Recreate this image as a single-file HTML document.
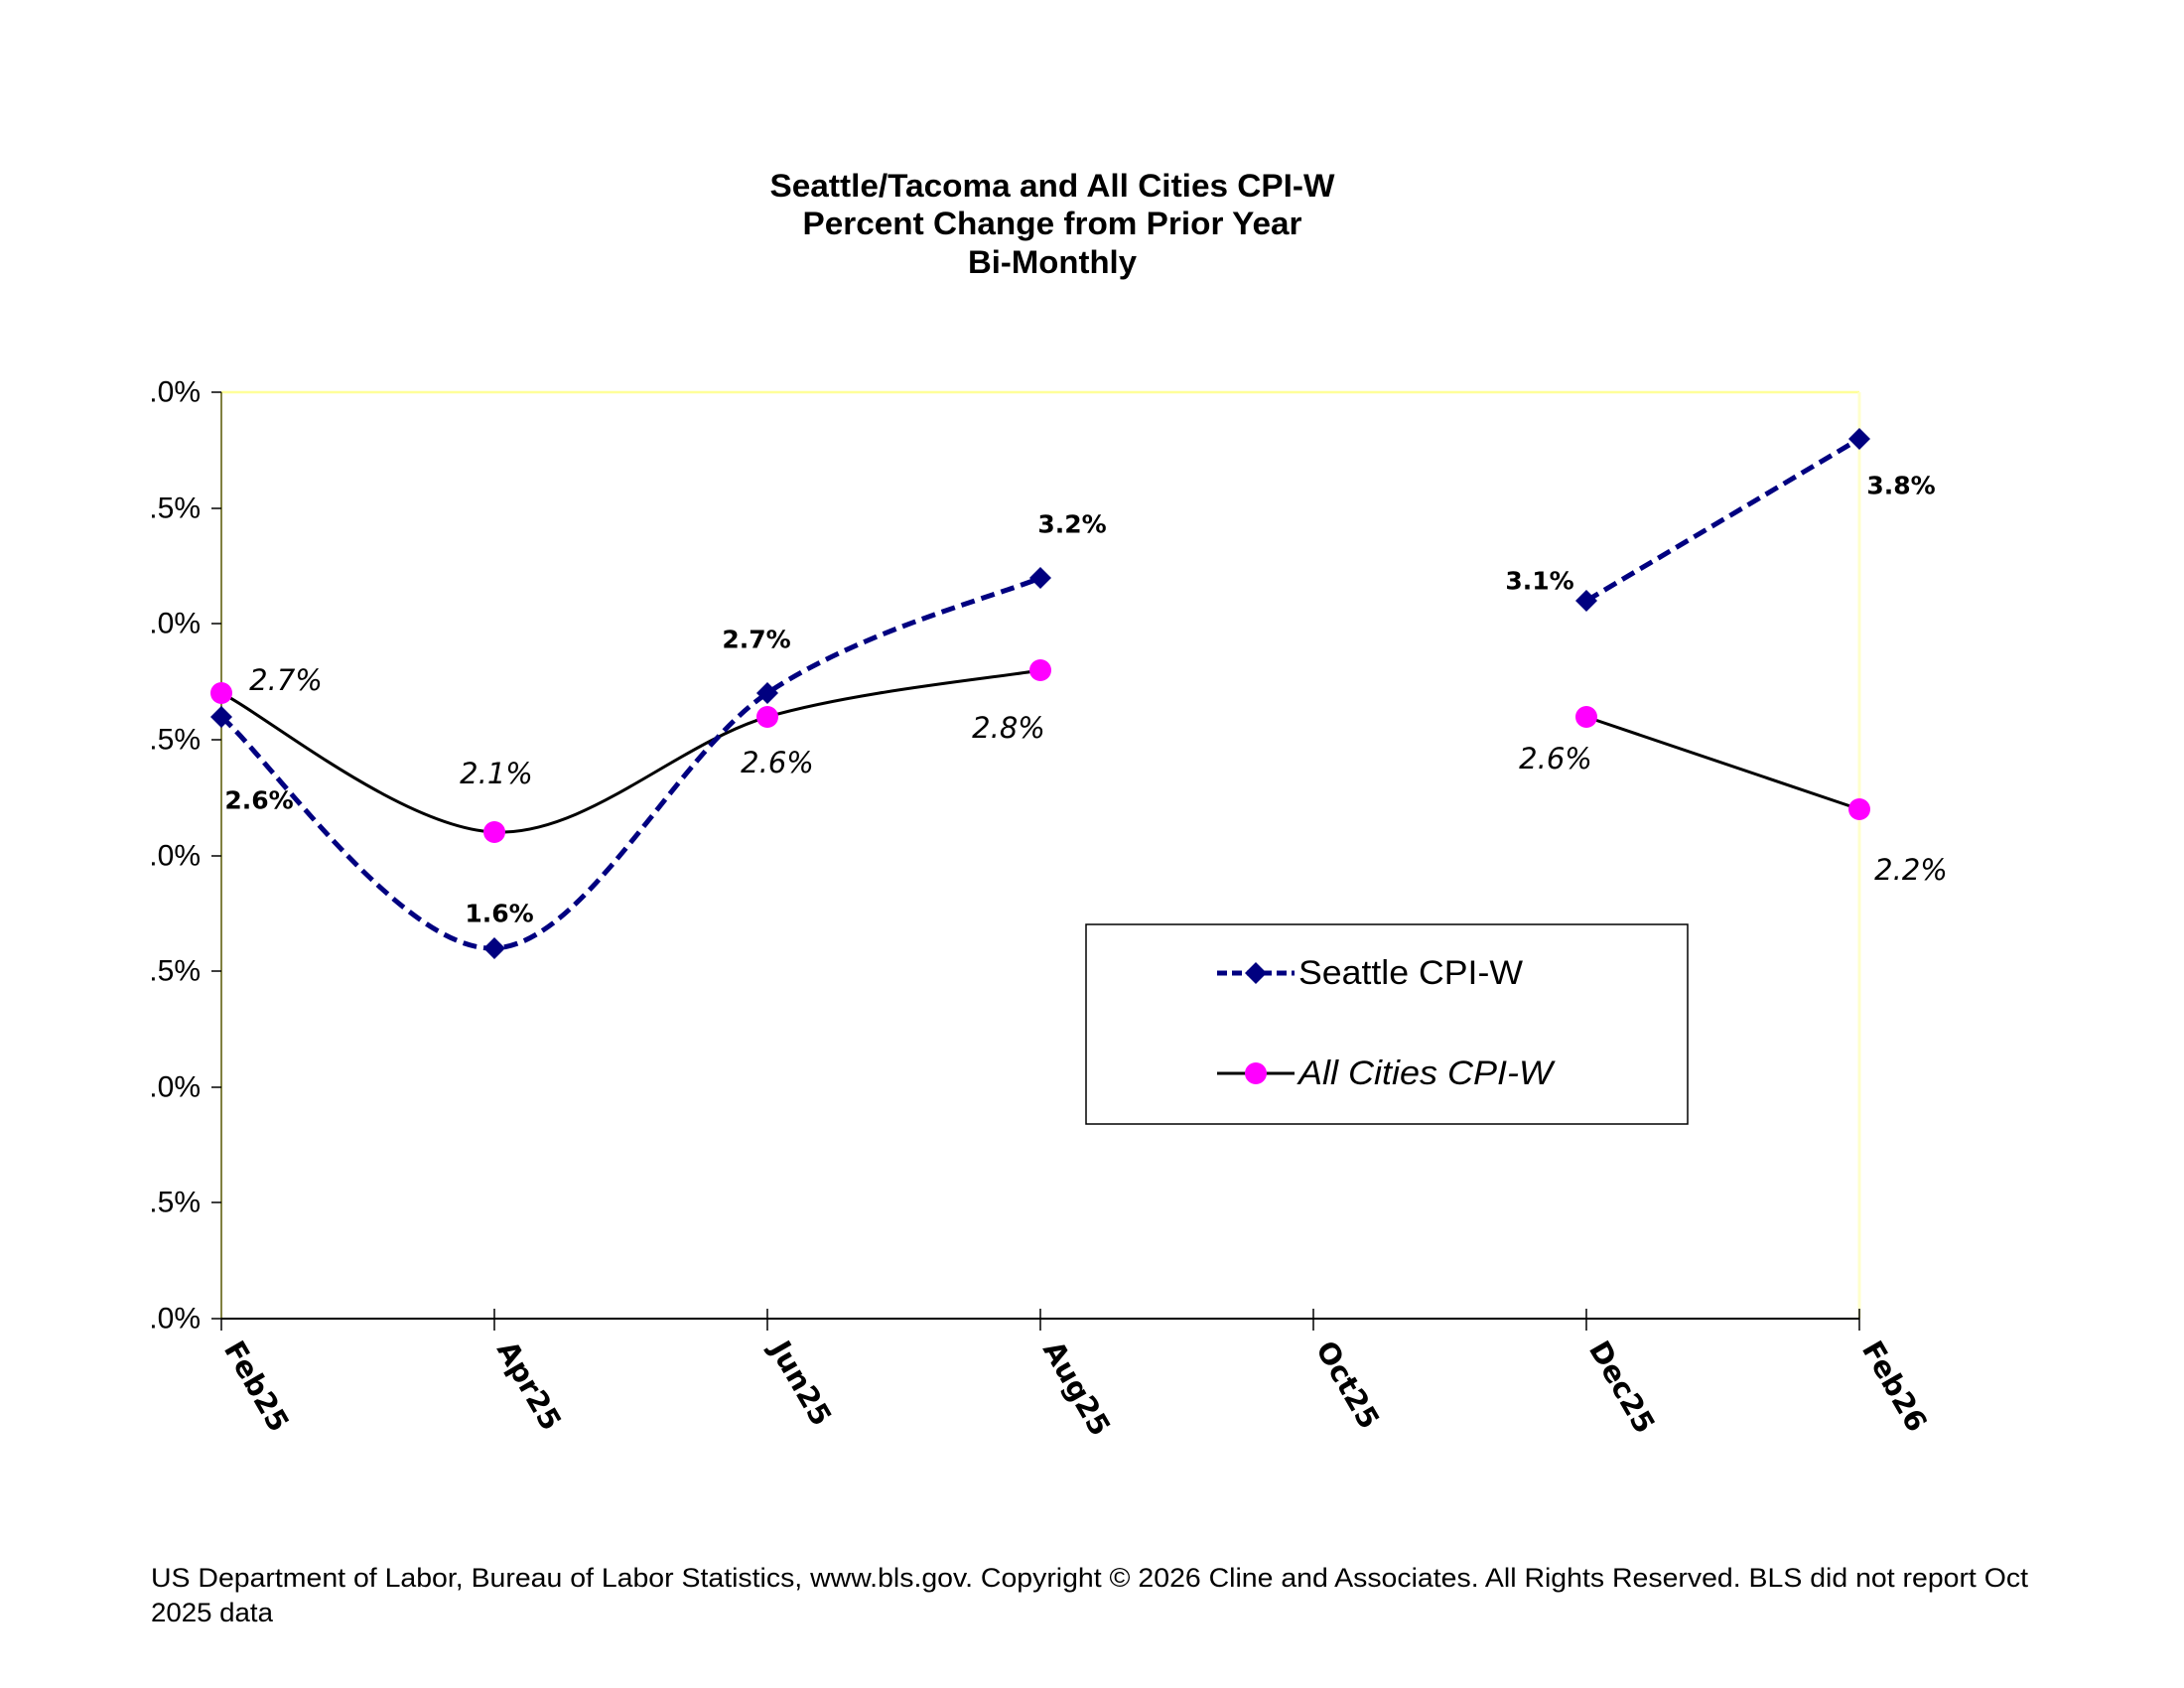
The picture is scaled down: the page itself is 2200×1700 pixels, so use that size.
<!DOCTYPE html>
<html><head><meta charset="utf-8"><style>html,body{margin:0;padding:0;background:#fff}svg{display:block}</style></head>
<body>
<svg width="2200" height="1700" viewBox="0 0 2200 1700" xmlns="http://www.w3.org/2000/svg">
<defs><clipPath id="yc"><rect x="150" y="0" width="200" height="1700"/></clipPath></defs>
<g font-family="Liberation Sans, Arial, sans-serif" font-weight="bold" font-size="32" text-anchor="middle" fill="#000">
<text x="1060" y="198" textLength="569" lengthAdjust="spacingAndGlyphs">Seattle/Tacoma and All Cities CPI-W</text>
<text x="1060" y="236" textLength="503" lengthAdjust="spacingAndGlyphs">Percent Change from Prior Year</text>
<text x="1060" y="275" textLength="170" lengthAdjust="spacingAndGlyphs">Bi-Monthly</text>
</g>
<line x1="223" y1="395" x2="1873" y2="395" stroke="#ffff99" stroke-width="2.5"/>
<line x1="1873" y1="395" x2="1873" y2="1328" stroke="#ffffcc" stroke-width="3"/>
<line x1="223" y1="395" x2="223" y2="1328" stroke="#808040" stroke-width="2"/>
<line x1="223" y1="1328" x2="1873" y2="1328" stroke="#000" stroke-width="2"/>
<g stroke="#000" stroke-width="1.5">
<line x1="213" y1="395" x2="223" y2="395"/><line x1="213" y1="512" x2="223" y2="512"/>
<line x1="213" y1="628" x2="223" y2="628"/><line x1="213" y1="745" x2="223" y2="745"/>
<line x1="213" y1="862" x2="223" y2="862"/><line x1="213" y1="978" x2="223" y2="978"/>
<line x1="213" y1="1095" x2="223" y2="1095"/><line x1="213" y1="1211" x2="223" y2="1211"/>
<line x1="213" y1="1328" x2="223" y2="1328"/>
<line x1="223" y1="1328" x2="223" y2="1340"/><line x1="498" y1="1318" x2="498" y2="1340"/>
<line x1="773" y1="1318" x2="773" y2="1340"/><line x1="1048" y1="1318" x2="1048" y2="1340"/>
<line x1="1323" y1="1318" x2="1323" y2="1340"/><line x1="1598" y1="1318" x2="1598" y2="1340"/>
<line x1="1873" y1="1318" x2="1873" y2="1340"/>
</g>
<g clip-path="url(#yc)" font-family="Liberation Sans, Arial, sans-serif" font-size="30" text-anchor="end" dominant-baseline="central" fill="#000">
<text x="202" y="395">4.0%</text><text x="202" y="512">3.5%</text><text x="202" y="628">3.0%</text>
<text x="202" y="745">2.5%</text><text x="202" y="862">2.0%</text><text x="202" y="978">1.5%</text>
<text x="202" y="1095">1.0%</text><text x="202" y="1211">0.5%</text><text x="202" y="1328">0.0%</text>
</g>
<g font-family="DejaVu Sans, sans-serif" font-weight="bold" font-size="29" fill="#000">
<text transform="translate(225,1358) rotate(60)">Feb25</text>
<text transform="translate(500,1358) rotate(60)">Apr25</text>
<text transform="translate(775,1358) rotate(60)">Jun25</text>
<text transform="translate(1050,1358) rotate(60)">Aug25</text>
<text transform="translate(1325,1358) rotate(60)">Oct25</text>
<text transform="translate(1600,1358) rotate(60)">Dec25</text>
<text transform="translate(1875,1358) rotate(60)">Feb26</text>
</g>
<path d="M223,698 C269,721 406,834 498,838 C590,842 681,749.5 773,722 C865,695.5 1002,683 1048,675" fill="none" stroke="#000" stroke-width="3"/>
<line x1="1598" y1="722" x2="1873" y2="815" stroke="#000" stroke-width="3"/>
<path d="M223,722 C269,761 406,959 498,955 C590,951 681,760 773,698 C865,636 1002,601 1048,582" fill="none" stroke="#000080" stroke-width="5" stroke-dasharray="14,7"/>
<line x1="1598" y1="605" x2="1873" y2="442" stroke="#000080" stroke-width="5" stroke-dasharray="14,7"/>
<g fill="#ff00ff">
<circle cx="223" cy="698" r="11"/><circle cx="498" cy="838" r="11"/><circle cx="773" cy="722" r="11"/>
<circle cx="1048" cy="675" r="11"/><circle cx="1598" cy="722" r="11"/><circle cx="1873" cy="815" r="11"/>
</g>
<g fill="#000080">
<path d="M223,711 l11,11 -11,11 -11,-11z"/><path d="M498,944 l11,11 -11,11 -11,-11z"/>
<path d="M773,687 l11,11 -11,11 -11,-11z"/><path d="M1048,571 l11,11 -11,11 -11,-11z"/>
<path d="M1598,594 l11,11 -11,11 -11,-11z"/><path d="M1873,431 l11,11 -11,11 -11,-11z"/>
</g>
<g font-family="DejaVu Sans, sans-serif" font-weight="bold" font-size="25" text-anchor="middle" dominant-baseline="central" fill="#000">
<text x="261" y="806">2.6%</text><text x="503" y="920">1.6%</text><text x="762" y="644">2.7%</text>
<text x="1080" y="528">3.2%</text><text x="1551" y="585">3.1%</text><text x="1915" y="489">3.8%</text>
</g>
<g font-family="DejaVu Sans, sans-serif" font-style="italic" font-size="29" text-anchor="middle" dominant-baseline="central" fill="#000">
<text x="288" y="685">2.7%</text><text x="500" y="779">2.1%</text><text x="783" y="768">2.6%</text>
<text x="1016" y="733">2.8%</text><text x="1567" y="764">2.6%</text><text x="1925" y="876">2.2%</text>
</g>
<rect x="1094" y="931" width="606" height="201" fill="#fff" stroke="#000" stroke-width="1.5"/>
<line x1="1226" y1="980" x2="1304" y2="980" stroke="#000080" stroke-width="5" stroke-dasharray="10,5"/>
<path d="M1265,969 l11,11 -11,11 -11,-11z" fill="#000080"/>
<line x1="1226" y1="1081" x2="1304" y2="1081" stroke="#000" stroke-width="3"/>
<circle cx="1265" cy="1081" r="11" fill="#ff00ff"/>
<g font-family="Liberation Sans, Arial, sans-serif" font-size="34" dominant-baseline="central" fill="#000">
<text x="1308" y="980" textLength="226" lengthAdjust="spacingAndGlyphs">Seattle CPI-W</text>
<text x="1308" y="1081" font-style="italic" textLength="256" lengthAdjust="spacingAndGlyphs">All Cities CPI-W</text>
</g>
<g font-family="Liberation Sans, Arial, sans-serif" font-size="27" fill="#000">
<text x="152" y="1598" textLength="1891" lengthAdjust="spacingAndGlyphs">US Department of Labor, Bureau of Labor Statistics, www.bls.gov.   Copyright © 2026 Cline and Associates.  All Rights Reserved. BLS did not report Oct</text>
<text x="152" y="1633" textLength="123" lengthAdjust="spacingAndGlyphs">2025 data</text>
</g>
</svg>
</body></html>
